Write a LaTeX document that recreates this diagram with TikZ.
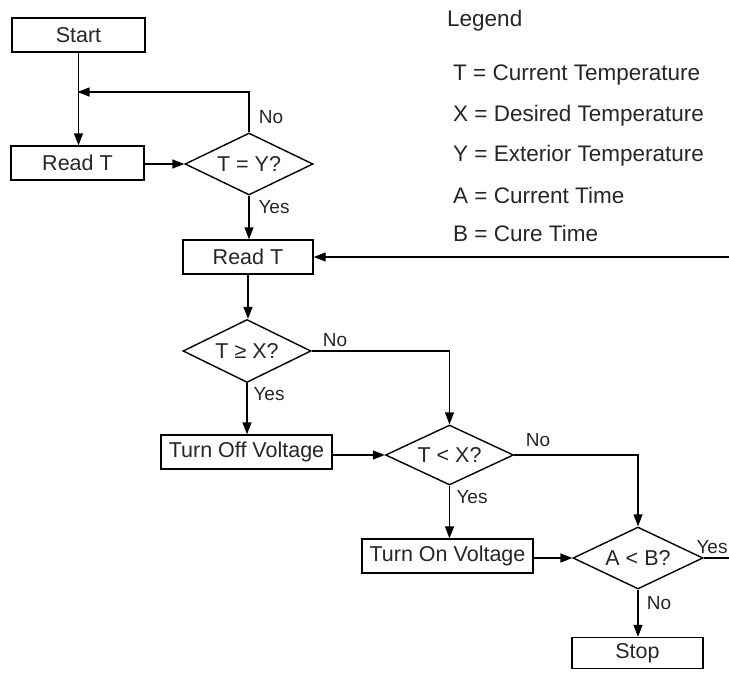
\documentclass[tikz,border=0pt]{standalone}
\usepackage{fontspec}
\setmainfont{Liberation Sans}
\usetikzlibrary{shapes.geometric,arrows.meta}
\begin{document}
\begin{tikzpicture}[x=1pt,y=-1pt,
  every node/.style={text=black!85},
  box/.style={draw, line width=1.4pt, minimum height=34pt, inner sep=0pt, font=\fontsize{21.5}{25}\selectfont},
  dec/.style={diamond, draw, line width=1.4pt, aspect=2, minimum width=128pt, minimum height=62pt, inner sep=0pt, font=\fontsize{21.5}{25}\selectfont},
  arr/.style={-{Triangle[length=12pt,width=9pt]}, line width=1.4pt},
  ln/.style={line width=1.4pt},
  lbl/.style={font=\fontsize{19}{22}\selectfont, inner sep=0pt},
  leg/.style={font=\fontsize{22.5}{26}\selectfont, anchor=west, inner sep=0pt}]
\useasboundingbox (0,0) rectangle (729,675);
% nodes
\node[box, minimum width=133pt] (start) at (78.5,35) {Start};
\node[box, minimum width=133pt] (read1) at (77.5,163) {Read T};
\node[dec] (q1) at (249,164) {T = Y?};
\node[box, minimum width=130pt] (read2) at (248,257) {Read T};
\node[dec, minimum height=63pt] (q2) at (247,351) {T ≥ X?};
\node[box, minimum width=171pt] (off) at (246.5,452) {Turn Off Voltage};
\node[dec, minimum height=60pt] (q3) at (449.5,455) {T < X?};
\node[box, minimum width=171pt] (on) at (447.5,556) {Turn On Voltage};
\node[dec, minimum width=130pt] (q4) at (638,558) {A < B?};
\node[box, minimum width=131pt, minimum height=31pt] (stop) at (637.5,653) {Stop};
% free ends
\coordinate (j1) at (77.5,92);
\coordinate (e1) at (729,257);
\coordinate (e2) at (729,558);
% connectors
\draw[arr] (start.south) -- (start.south |- read1.north);
\draw[arr] (q1.north) |- (j1);
\draw[arr] (read1.east |- q1.west) -- (q1.west);
\draw[arr] (q1.south) -- (q1.south |- read2.north);
\draw[arr] (e1) -- (read2.east);
\draw[arr] (read2.south) -- (read2.south |- q2.north);
\draw[arr] (q2.east) -| (q3.north);
\draw[arr] (q2.south) -- (q2.south |- off.north);
\draw[arr] (off.east |- q3.west) -- (q3.west);
\draw[arr] (q3.east) -| (q4.north);
\draw[arr] (q3.south) -- (q3.south |- on.north);
\draw[arr] (on.east |- q4.west) -- (q4.west);
\draw[ln] (q4.east) -- (e2);
\draw[arr] (q4.south) -- (q4.south |- stop.north);
% labels
\node[lbl] (l1) at (271,117) {No};
\node[lbl] (l2) at (274,207) {Yes};
\node[lbl] (l3) at (335,340) {No};
\node[lbl] (l4) at (269,394) {Yes};
\node[lbl] (l5) at (538,440) {No};
\node[lbl] (l6) at (472,497) {Yes};
\node[lbl] (l7) at (712,547) {Yes};
\node[lbl] (l8) at (659,603) {No};
% legend
\node[leg] (lg) at (447,21) {Legend};
\node[leg] (lg1) at (453,75) {T = Current Temperature};
\node[leg] (lg2) at (453,116) {X = Desired Temperature};
\node[leg] (lg3) at (453,156) {Y = Exterior Temperature};
\node[leg] (lg4) at (453,195) {A = Current Time};
\node[leg] (lg5) at (453,233) {B = Cure Time};
\end{tikzpicture}
\end{document}
